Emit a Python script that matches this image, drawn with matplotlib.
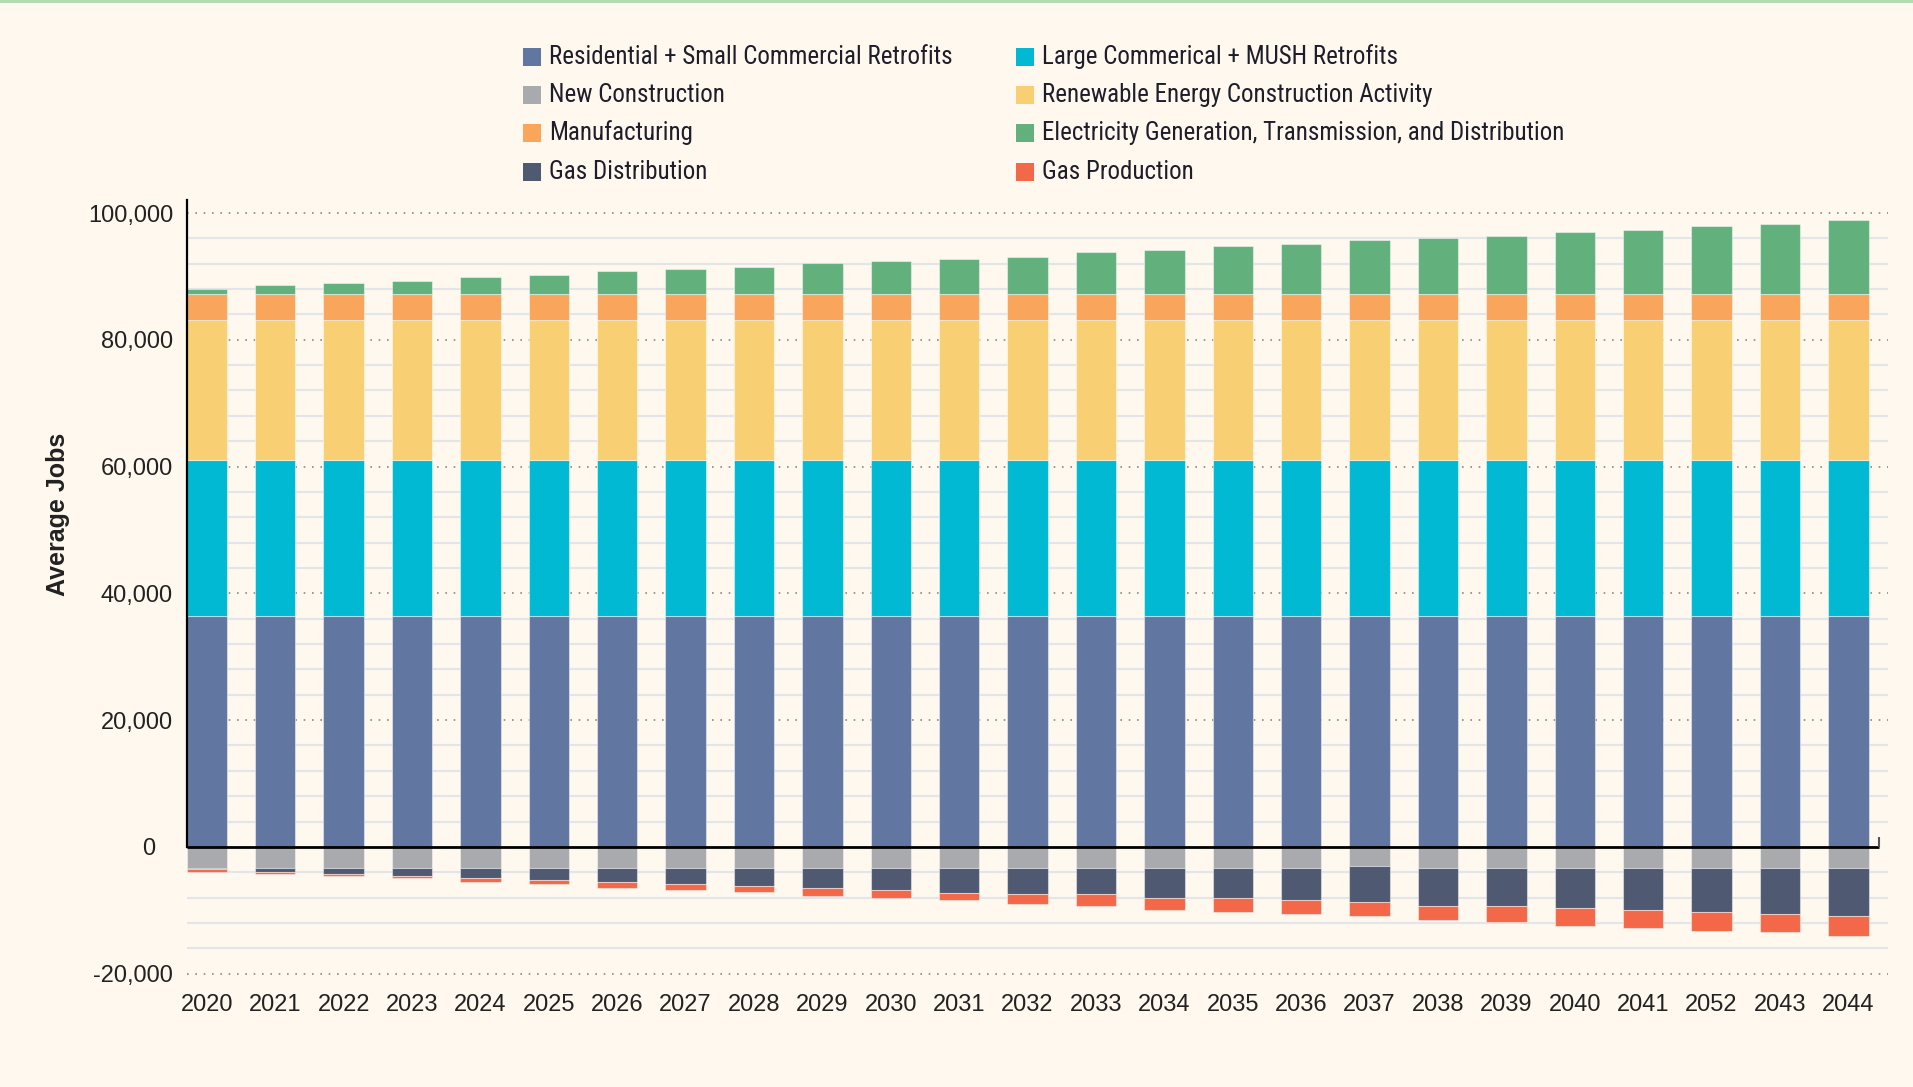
import matplotlib
matplotlib.use('Agg')
import matplotlib.pyplot as plt
import matplotlib.transforms as mtransforms
from matplotlib import font_manager
from matplotlib.patches import Rectangle
from matplotlib.ticker import FuncFormatter
import numpy as np

# categories
years = ['2020', '2021', '2022', '2023', '2024', '2025', '2026', '2027', '2028',
         '2029', '2030', '2031', '2032', '2033', '2034', '2035', '2036', '2037',
         '2038', '2039', '2040', '2041', '2052', '2043', '2044']

# positive series (jobs)
residential = [36400] * 25
large_commercial = [24700] * 25
renewable = [22000] * 25
manufacturing = [4100] * 25
electricity = [800, 1400, 1700, 2100, 2700, 3000, 3600, 3900, 4300, 4900, 5200,
               5600, 5900, 6600, 6900, 7600, 7900, 8500, 8800, 9100, 9800, 10100,
               10700, 11050, 11700]

# negative series (jobs)
new_construction = [-3300] * 17 + [-3000] + [-3300] * 7
gas_distribution = [-140, -720, -1040, -1360, -1670, -1990, -2260, -2570, -2940,
                    -3260, -3530, -3900, -4200, -4200, -4800, -4800, -5100, -5700,
                    -6100, -6100, -6400, -6700, -7000, -7300, -7650]
gas_production = [-530, -320, -320, -310, -590, -580, -940, -930, -900, -1220,
                  -1270, -1200, -1550, -1870, -1900, -2200, -2200, -2250, -2200,
                  -2500, -2800, -2860, -2900, -2900, -3150]

BG = '#FEF8EE'
C_RES = '#6176A0'
C_LCM = '#02B9D3'
C_REN = '#F8D073'
C_MAN = '#F9A55C'
C_ELE = '#62B17D'
C_NEW = '#A9AAAD'
C_GDI = '#4F5972'
C_GPR = '#F26849'

TICK_FONT = ['Liberation Sans', 'DejaVu Sans']


def find_condensed_font():
    """Look for an installed narrow/condensed sans face for the legend."""
    cands = []
    for f in font_manager.fontManager.ttflist:
        name = f.name.lower()
        fname = f.fname.lower()
        narrow = ('narrow' in name or 'condensed' in name or 'narrow' in fname
                  or 'condensed' in fname or f.stretch in ('condensed', 'semi-condensed'))
        if not narrow or f.style != 'normal':
            continue
        if f.weight not in (400, 'normal', 'regular', 'book'):
            continue
        if 'mono' in name or 'serif' in name and 'sans' not in name:
            continue
        score = 0
        if 'liberation' in name:
            score -= 3
        if 'roboto' in name:
            score -= 2
        if 'semi' in fname:
            score += 1
        cands.append((score, f.fname))
    if cands:
        cands.sort()
        return font_manager.FontProperties(fname=cands[0][1]), True
    return font_manager.FontProperties(family=TICK_FONT), False


leg_prop, is_narrow = find_condensed_font()
leg_size = 18 if is_narrow else 15.5

fig = plt.figure(figsize=(19.13, 10.87), dpi=100, facecolor=BG)
ax = fig.add_axes([187 / 1913, 107 / 1087, 1701 / 1913, 786 / 1087])
ax.set_facecolor(BG)

x = np.arange(len(years))
w = 0.59
edge = dict(edgecolor=(1, 1, 1, 0.45), linewidth=0.8, zorder=3)

# stacked positives
bottom = np.zeros(len(years))
for vals, col in [(residential, C_RES), (large_commercial, C_LCM),
                  (renewable, C_REN), (manufacturing, C_MAN), (electricity, C_ELE)]:
    ax.bar(x, vals, w, bottom=bottom, color=col, **edge)
    bottom = bottom + np.array(vals)

# stacked negatives
bottom = np.zeros(len(years))
for vals, col in [(new_construction, C_NEW), (gas_distribution, C_GDI),
                  (gas_production, C_GPR)]:
    ax.bar(x, vals, w, bottom=bottom, color=col, **edge)
    bottom = bottom + np.array(vals)

ax.set_xlim(-0.29, 24.58)
ax.set_ylim(-21000, 103000)

# grid: light solid minor lines, dotted majors
for yv in range(-16000, 100000, 4000):
    if yv % 20000 != 0:
        ax.axhline(yv, color='#E4E5EA', lw=1.5, zorder=1)
for yv in [-20000, 20000, 40000, 60000, 80000, 100000]:
    ax.axhline(yv, color='#8A8A8A', lw=1.2, linestyle=(0, (1, 4)), zorder=1)

# zero line with small end tick
ax.hlines(0, -0.29, 24.45, color='black', lw=2, zorder=4)
ax.vlines(24.45, 0, 1600, color='#555555', lw=1.5, zorder=4)

for s in ['top', 'right', 'bottom']:
    ax.spines[s].set_visible(False)
ax.spines['left'].set_bounds(0, 102000)
ax.spines['left'].set_linewidth(1.6)
ax.spines['left'].set_zorder(5)

ax.set_yticks([-20000, 0, 20000, 40000, 60000, 80000, 100000])
ax.yaxis.set_major_formatter(FuncFormatter(lambda v, p: f'{int(v):,}'))
ax.set_xticks(x)
ax.set_xticklabels(years)
ax.tick_params(axis='both', length=0, labelsize=17, colors='#222222')
ax.tick_params(axis='y', pad=10)
ax.tick_params(axis='x', pad=10)
for lab in ax.get_xticklabels() + ax.get_yticklabels():
    lab.set_family(TICK_FONT)

# "0" label sits a bit further left in the original
fig.canvas.draw()
for lab in ax.get_yticklabels():
    if lab.get_text() == '0':
        lab.set_transform(lab.get_transform() +
                          mtransforms.ScaledTranslation(-18 / 100, 0, fig.dpi_scale_trans))

ax.set_ylabel('Average Jobs', fontsize=18, fontweight='bold', family=TICK_FONT, color='#222222')
ax.yaxis.set_label_coords(-0.069, 0.592)

# legend drawn by hand in two columns
legend_items = [
    ('Residential + Small Commercial Retrofits', C_RES, 0, 0),
    ('New Construction', C_NEW, 0, 1),
    ('Manufacturing', C_MAN, 0, 2),
    ('Gas Distribution', C_GDI, 0, 3),
    ('Large Commerical + MUSH Retrofits', C_LCM, 1, 0),
    ('Renewable Energy Construction Activity', C_REN, 1, 1),
    ('Electricity Generation, Transmission, and Distribution', C_ELE, 1, 2),
    ('Gas Production', C_GPR, 1, 3),
]
col_x = [523, 1016]
row_y = [57, 95, 133, 172]
sq = 18
for label, col, c, r in legend_items:
    px, py = col_x[c], row_y[r]
    fig.patches.append(Rectangle((px / 1913, 1 - (py + sq / 2) / 1087), sq / 1913, sq / 1087,
                                 transform=fig.transFigure, facecolor=col, edgecolor='none'))
    fig.text((px + 26) / 1913, 1 - py / 1087, label, fontproperties=leg_prop,
             fontsize=leg_size, color='#1E1E2A', va='center', ha='left')

# thin green strip at the very top
fig.patches.append(Rectangle((0, 1 - 3 / 1087), 1, 3 / 1087, transform=fig.transFigure,
                             facecolor='#B4DCB0', edgecolor='none'))

fig.savefig('out.png', dpi=100, facecolor=BG)
